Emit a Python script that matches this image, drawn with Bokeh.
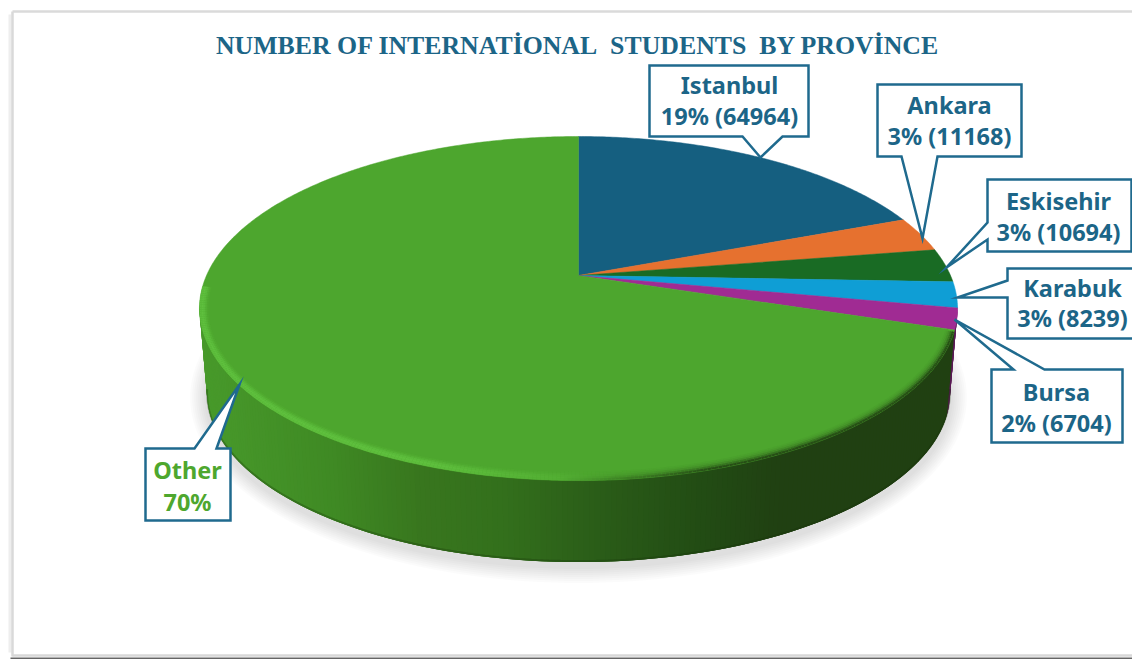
import math

from bokeh.core.properties import value
from bokeh.embed import file_html
from bokeh.models import ColumnDataSource
from bokeh.plotting import figure
from bokeh.resources import INLINE

# Chart content
title_text = "NUMBER OF INTERNATİONAL\u00a0 STUDENTS\u00a0 BY PROVİNCE"
provinces = ["Istanbul", "Ankara", "Eskisehir", "Karabuk", "Bursa", "Other"]
students = [64964, 11168, 10694, 8239, 6704, 237400]
percent_labels = ["19%", "3%", "3%", "3%", "2%", "70%"]
show_count = [True, True, True, True, True, False]
slice_colors = ["#155f80", "#e6712f", "#196b24", "#0f9ed5", "#a02b93", "#4da62e"]
label_colors = ["#1c6587", "#1c6587", "#1c6587", "#1c6587", "#1c6587", "#4ea72e"]

# Page size and drawing style
W, H = 1132, 659
FRAME_BLUE = "#1f6a8e"
LABEL_FONT = "Noto Sans"

# Perspective disc: circle coordinates are projected onto the page
CX, CY = 578.0, 275.0
PROJ_A, PROJ_B, PROJ_K = 372.0, 165.7, 0.192
ELL_CY, ELL_RX, ELL_RY = 308.0, 379.0, 172.0
DEPTH, BASE_SCALE = 85.0, 0.98

# Callout geometry: box (left, right, top, bottom), outline path, label centre and rows
callouts = {
    "Istanbul": dict(box=(649, 808, 65, 136), tail=[("b", 782), ("tip", 760, 157), ("b", 742)],
                     cx=729, rows=(84, 115)),
    "Ankara": dict(box=(877, 1021, 84, 156), tail=[("b", 937), ("tip", 922, 238), ("b", 901)],
                   cx=949, rows=(104, 135)),
    "Eskisehir": dict(box=(987, 1131, 179, 251), tail=[("l", 239), ("tip", 946, 267), ("l", 222)],
                      cx=1058, rows=(200, 231)),
    "Karabuk": dict(box=(1007, 1140, 268, 338), tail=[("l", 297), ("tip", 957, 297), ("l", 280)],
                    cx=1072, rows=(287, 317)),
    "Bursa": dict(box=(991, 1122, 369, 442), tail=[("t", 1013), ("tip", 954, 319), ("t", 1044)],
                  cx=1056, rows=(391, 422)),
    "Other": dict(box=(145, 230, 448, 520), tail=[("t", 194), ("tip", 239, 384), ("t", 216)],
                  cx=187, rows=(469, 501)),
}


def project(theta):
    """Map a clockwise angle from twelve o'clock to a point on the disc's rim."""
    u, v = math.sin(theta), math.cos(theta)
    w = 1 + PROJ_K * v
    return CX + PROJ_A * u / w, CY - PROJ_B * v / w


def hex_rgb(color):
    return tuple(int(color[i:i + 2], 16) for i in (1, 3, 5))


def mix(a, b, t):
    t = max(0.0, min(1.0, t))
    ra, rb = hex_rgb(a), hex_rgb(b)
    return "#%02x%02x%02x" % tuple(round(x + (y - x) * t) for x, y in zip(ra, rb))


def ramp(x, stops):
    """Piecewise colour lookup along the page's x direction."""
    if x <= stops[0][0]:
        return stops[0][1]
    for (x0, c0), (x1, c1) in zip(stops, stops[1:]):
        if x <= x1:
            return mix(c0, c1, (x - x0) / (x1 - x0))
    return stops[-1][1]


side_stops = [(200, "#489a2b"), (330, "#3f8a24"), (420, "#38761e"), (500, "#33701c"),
              (600, "#2a5c18"), (700, "#224c14"), (780, "#204012"), (960, "#204012")]

p = figure(width=W, height=H, x_range=(0, W), y_range=(H, 0), output_backend="svg",
           toolbar_location=None, min_border=0, outline_line_color=None,
           background_fill_color="white", border_fill_color="white")
p.xaxis.visible = False
p.yaxis.visible = False
p.grid.visible = False

# Card outline around the chart
p.line([9.5, 9.5], [14, 652], line_color="#eeeeee", line_width=3)
p.line([12, 12], [11, 656], line_color="#d9d9d9", line_width=2.5)
p.line([12, W], [11, 11], line_color="#dadada", line_width=2.5)
p.line([12, W], [655, 655], line_color="#d8d8d8", line_width=2.5)
p.line([10, W], [658, 658], line_color="#666666", line_width=2)

# Soft ground shadow beneath the disc
for i in range(8):
    grow = 3 + i * 2
    phis = [2 * math.pi * k / 180 for k in range(180)]
    p.patch([CX + (ELL_RX * BASE_SCALE + grow) * math.cos(a) for a in phis],
            [ELL_CY + DEPTH + 4 + (ELL_RY * BASE_SCALE + grow) * math.sin(a) for a in phis],
            fill_color="black", fill_alpha=0.015, line_color=None)

# Share of each province on the disc
total = sum(students)
edges = [0.0]
for n in students:
    edges.append(edges[-1] + 2 * math.pi * n / total)

# Front wall of the disc: overlapping strips painted from right to left, so no seams show
bursa_end = project(edges[5])
phi_split = math.atan2((bursa_end[1] - ELL_CY) / ELL_RY, (bursa_end[0] - CX) / ELL_RX)
wall_xs, wall_ys, wall_colors = [], [], []
STRIPS = 220
phi_from, phi_to = -0.02, math.pi + 0.02
step = (phi_to - phi_from) / STRIPS
for k in range(STRIPS):
    a0 = phi_from + step * k
    a1 = min(a0 + 3 * step, phi_to)
    xs = [CX + ELL_RX * math.cos(a0), CX + ELL_RX * math.cos(a1),
          CX + ELL_RX * BASE_SCALE * math.cos(a1), CX + ELL_RX * BASE_SCALE * math.cos(a0)]
    ys = [ELL_CY + ELL_RY * math.sin(a0), ELL_CY + ELL_RY * math.sin(a1),
          ELL_CY + DEPTH + ELL_RY * BASE_SCALE * math.sin(a1),
          ELL_CY + DEPTH + ELL_RY * BASE_SCALE * math.sin(a0)]
    wall_xs.append(xs)
    wall_ys.append(ys)
    mid_x = CX + ELL_RX * 0.99 * math.cos(a0 + step / 2)
    wall_colors.append("#5a1a55" if a0 + step < phi_split else ramp(mid_x, side_stops))
p.patches("xs", "ys", source=ColumnDataSource(dict(xs=wall_xs, ys=wall_ys, c=wall_colors)),
          fill_color="c", line_color=None)

# Darker lip along the lower edge of the wall
lip = [phi_from + (phi_to - phi_from) * k / 200 for k in range(201)]
p.line([CX + ELL_RX * BASE_SCALE * math.cos(a) for a in lip],
       [ELL_CY + DEPTH - 1 + ELL_RY * BASE_SCALE * math.sin(a) for a in lip],
       line_color="#173209", line_alpha=0.3, line_width=2)

# Top face: one projected wedge per province
for start, end, color, name in zip(edges, edges[1:], slice_colors, provinces):
    steps = max(4, int((end - start) / 0.01))
    rim = [project(start + (end - start) * k / steps) for k in range(steps + 1)]
    p.patch([CX] + [q[0] for q in rim], [CY] + [q[1] for q in rim],
            fill_color=color, line_color=color, line_width=0.5)

# Bevel along the front of the top face: light on the left, shaded on the right
HIGHLIGHT, TOP_GREEN = "#5fc03e", slice_colors[5]
bevel_layers = [(7.8, 0.15, 0.05), (6.2, 0.45, 0.12), (4.6, 0.8, 0.25), (2.8, 1.0, 0.5), (1.0, 0.9, 0.85)]
bevel = [phi_split + 0.01 + (math.pi + 0.12 - phi_split) * k / 300 for k in range(301)]
seg_xs, seg_ys, seg_c = [], [], []
for inset, glow, shade in bevel_layers:
    for a0, a1 in zip(bevel, bevel[1:]):
        x0 = CX + (ELL_RX - inset) * math.cos(a0)
        x1 = CX + (ELL_RX - inset) * math.cos(a1)
        mid = (x0 + x1) / 2
        lit = 1 - max(0.0, min(1.0, (mid - 430) / 190))
        dark = max(0.0, min(1.0, (mid - 560) / 150))
        c = mix(TOP_GREEN, HIGHLIGHT, glow * lit)
        c = mix(c, "#204012", shade * dark)
        seg_xs.append([x0, x1])
        seg_ys.append([ELL_CY + (ELL_RY - inset) * math.sin(a0),
                       ELL_CY + (ELL_RY - inset) * math.sin(a1)])
        seg_c.append(c)
p.multi_line("xs", "ys", source=ColumnDataSource(dict(xs=seg_xs, ys=seg_ys, c=seg_c)),
             line_color="c", line_width=2.2)


def callout_path(spec):
    """Outline of a label box with its pointer, walked clockwise from the top-left corner."""
    left, right, top, bottom = spec["box"]
    tail = spec["tail"]
    side = tail[0][0]
    pts = [(left, top)]
    resolved = [(t[1], t[2]) if t[0] == "tip" else
                {"t": (t[1], top), "b": (t[1], bottom), "l": (left, t[1])}[t[0]] for t in tail]
    if side == "t":
        pts += resolved
    pts += [(right, top), (right, bottom)]
    if side == "b":
        pts += resolved
    pts.append((left, bottom))
    if side == "l":
        pts += resolved
    return [q[0] for q in pts], [q[1] for q in pts]


# Callouts and their two-row labels
for name, pct, count, has_count, color in zip(provinces, percent_labels, students, show_count, label_colors):
    spec = callouts[name]
    xs, ys = callout_path(spec)
    p.patch(xs, ys, fill_color="white", line_color=FRAME_BLUE, line_width=2.5, line_join="miter")
    second = f"{pct} ({count})" if has_count else pct
    for row, text in zip(spec["rows"], (name, second)):
        p.text([spec["cx"]], [row], text=[text], text_color=color, text_align="center",
               text_baseline="middle", text_font=value(LABEL_FONT), text_font_style="bold",
               text_font_size="23.5px")

# Chart title
p.text([577.5], [45], text=[title_text], text_color="#1c6587", text_align="center",
       text_baseline="middle", text_font=value("Liberation Serif"), text_font_style="bold",
       text_font_size="25.8px")

open("out.html", "w").write(file_html(p, INLINE))
